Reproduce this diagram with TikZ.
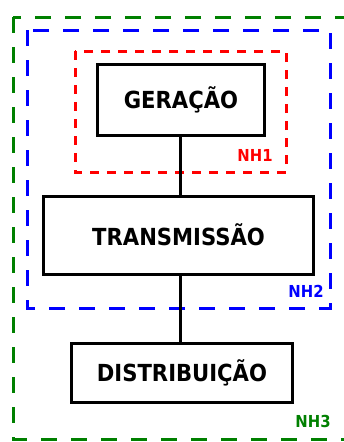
\documentclass[tikz,border=0pt]{standalone}
\usepackage{fontspec}
\newfontfamily\boxfont{DejaVu Sans Condensed Bold}
\definecolor{nhgreen}{RGB}{0,128,0}
\definecolor{nhblue}{RGB}{0,0,255}
\definecolor{nhred}{RGB}{255,0,0}
\tikzset{
  stagebox/.style={draw=black, line width=3pt, fill=white, inner sep=0pt,
    font=\boxfont\fontsize{23.5}{28}\selectfont},
  levelframe/.style={line width=3pt},
  nhlabel/.style={inner sep=0pt, font=\boxfont\fontsize{16.5}{20}\selectfont},
  link/.style={draw=black, line width=3pt}
}
\begin{document}
\begin{tikzpicture}[x=1pt,y=-1pt]
\useasboundingbox (0,0) rectangle (344,442);
\clip (0,0) rectangle (344,442);
% level frames
\draw[levelframe, nhgreen, dash pattern=on 16pt off 14pt] (13,17) rectangle (360,439);
\draw[levelframe, nhblue, dash pattern=on 16pt off 14pt] (27,30) rectangle (330,308);
\draw[levelframe, nhred, dash pattern=on 9pt off 8pt] (75,51) rectangle (286,172);
% stages
\node[stagebox, minimum width=167pt, minimum height=71pt] (gen) at (181,100) {GERAÇÃO};
\node[stagebox, minimum width=270pt, minimum height=78pt] (trans) at (178.5,235) {TRANSMISSÃO};
\node[stagebox, minimum width=221pt, minimum height=59pt] (dist) at (182,373) {DISTRIBUIÇÃO};
% links
\draw[link] (gen.south -| 180,0) -- (trans.north -| 180,0);
\draw[link] (trans.south -| 180,0) -- (dist.north -| 180,0);
% labels
\node[nhlabel, text=nhred] (nh1) at (255,155) {NH1};
\node[nhlabel, text=nhblue] (nh2) at (306,291) {NH2};
\node[nhlabel, text=nhgreen] (nh3) at (313,421) {NH3};
\end{tikzpicture}
\end{document}
